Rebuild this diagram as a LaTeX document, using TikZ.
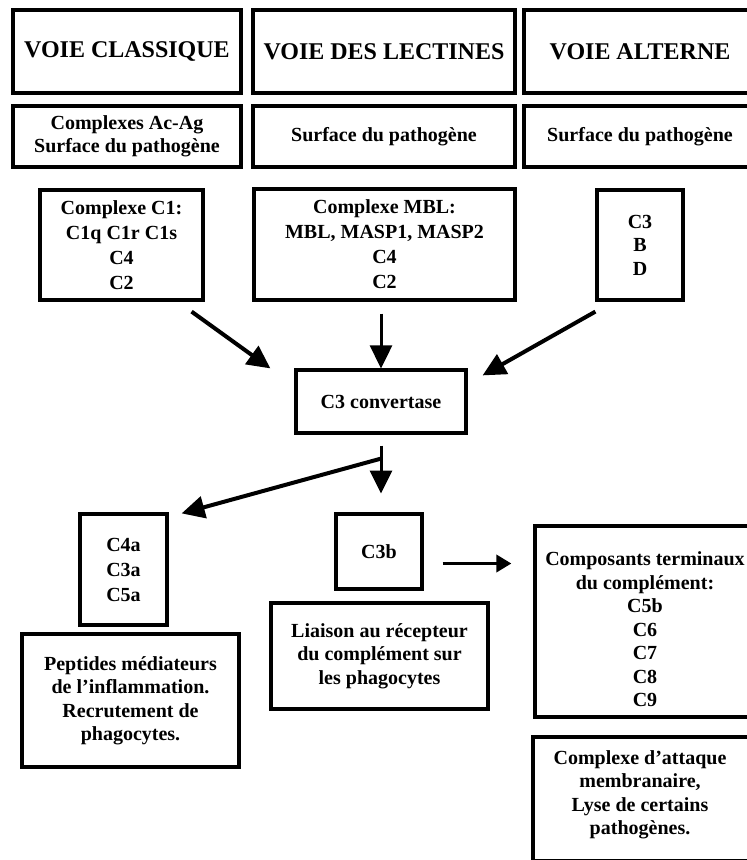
\documentclass[tikz,border=0pt]{standalone}
\usepackage{fontspec}
\setmainfont{Liberation Serif}
\usetikzlibrary{arrows.meta,calc}
\newcommand\hdfont{\fontsize{24}{28}\selectfont\bfseries}
\newcommand\bdfont{\fontsize{20}{23.5}\selectfont\bfseries}
\newcommand\bdfontw{\fontsize{20}{25}\selectfont\bfseries}
\begin{document}
\begin{tikzpicture}[x=1pt,y=-1pt,
  box/.style={draw,line width=3.2pt,inner sep=0pt,align=center,font=\bdfont},
  hbox/.style={box,font=\hdfont},
  wbox/.style={box,font=\bdfontw},
  txt/.style={inner sep=0pt,align=center,font=\bdfont},
  arr/.style={line width=4pt,-{Triangle[length=23pt,width=22pt]}},
  arrs/.style={line width=3.5pt,-{Triangle[length=15pt,width=17pt]}}]
\fill[white] (0,0) rectangle (747,860);
\useasboundingbox (0,0) rectangle (747,860);
\clip (0,0) rectangle (747,860);
% header row
\node[hbox,minimum width=228pt,minimum height=83pt] (h1) at (127,51.5) {VOIE CLASSIQUE};
\node[hbox,minimum width=262pt,minimum height=83pt] (h2) at (384,51.5) {VOIE DES LECTINES};
\node[hbox,minimum width=232pt,minimum height=83pt] (h3) at (640,51.5) {VOIE ALTERNE};
% second row
\node[box,minimum width=228pt,minimum height=61pt] (s1) at (127,136.5) {Complexes Ac-Ag\\Surface du pathogène};
\node[box,minimum width=262pt,minimum height=61pt] (s2) at (384,136.5) {Surface du pathogène};
\node[box,minimum width=232pt,minimum height=61pt] (s3) at (640,136.5) {Surface du pathogène};
% third row
\node[wbox,minimum width=163pt,minimum height=110pt] (c1) at (121.5,245) {Complexe C1:\\C1q C1r C1s\\C4\\C2};
\node[wbox,minimum width=261pt,minimum height=111pt] (mbl) at (384.5,244.5) {Complexe MBL:\\MBL, MASP1, MASP2\\C4\\C2};
\node[box,minimum width=86pt,minimum height=110pt] (c3bd) at (640,245) {C3\\B\\D};
% convertase
\node[box,minimum width=170pt,minimum height=63pt] (conv) at (381,401.5) {C3 convertase};
% products
\node[wbox,minimum width=87pt,minimum height=111pt] (c4a) at (123.5,569.5) {C4a\\C3a\\C5a};
\node[box,minimum width=86pt,minimum height=75pt] (c3b) at (379,551.5) {C3b};
\node[box,minimum width=217pt,minimum height=133pt] (pep) at (130.5,700.5) {Peptides médiateurs\\de l’inflammation.\\Recrutement de\\phagocytes.};
\node[box,minimum width=217pt,minimum height=106pt] (lia) at (379.5,656) {Liaison au récepteur\\du complément sur\\les phagocytes};
\node[box,minimum width=220pt,minimum height=191pt] (comp) at (645,621.5) {};
\node[txt] (compt) at ($(comp.center)+(0,8)$) {Composants terminaux\\du complément:\\C5b\\C6\\C7\\C8\\C9};
\node[box,minimum width=222pt,minimum height=124pt] (mac) at (644,799) {};
\node[txt] (mact) at ($(mac.center)+(-4,-4)$) {Complexe d’attaque\\membranaire,\\Lyse de certains\\pathogènes.};
% arrows
\draw[arr] ($(c1.south east)+(-13,10)$) -- ($(conv.north west)+(-24,0)$);
\draw[arr,line width=3pt] ($(mbl.south -| conv.north)+(0,12)$) -- (conv.north);
\draw[arr] ($(c3bd.south west)+(0,10)$) -- ($(conv.north east)+(15,7)$);
\draw[arr,line width=3pt] ($(conv.south)+(0,11)$) -- ($(conv.south)+(0,59)$);
\draw[arr] ($(conv.south)+(0,24)$) -- ($(c4a.north east)+(13,1)$);
\draw[arrs] ($(c3b.east)+(19,12)$) -- ($(c3b.east -| comp.west)+(-22,12)$);
\end{tikzpicture}
\end{document}
